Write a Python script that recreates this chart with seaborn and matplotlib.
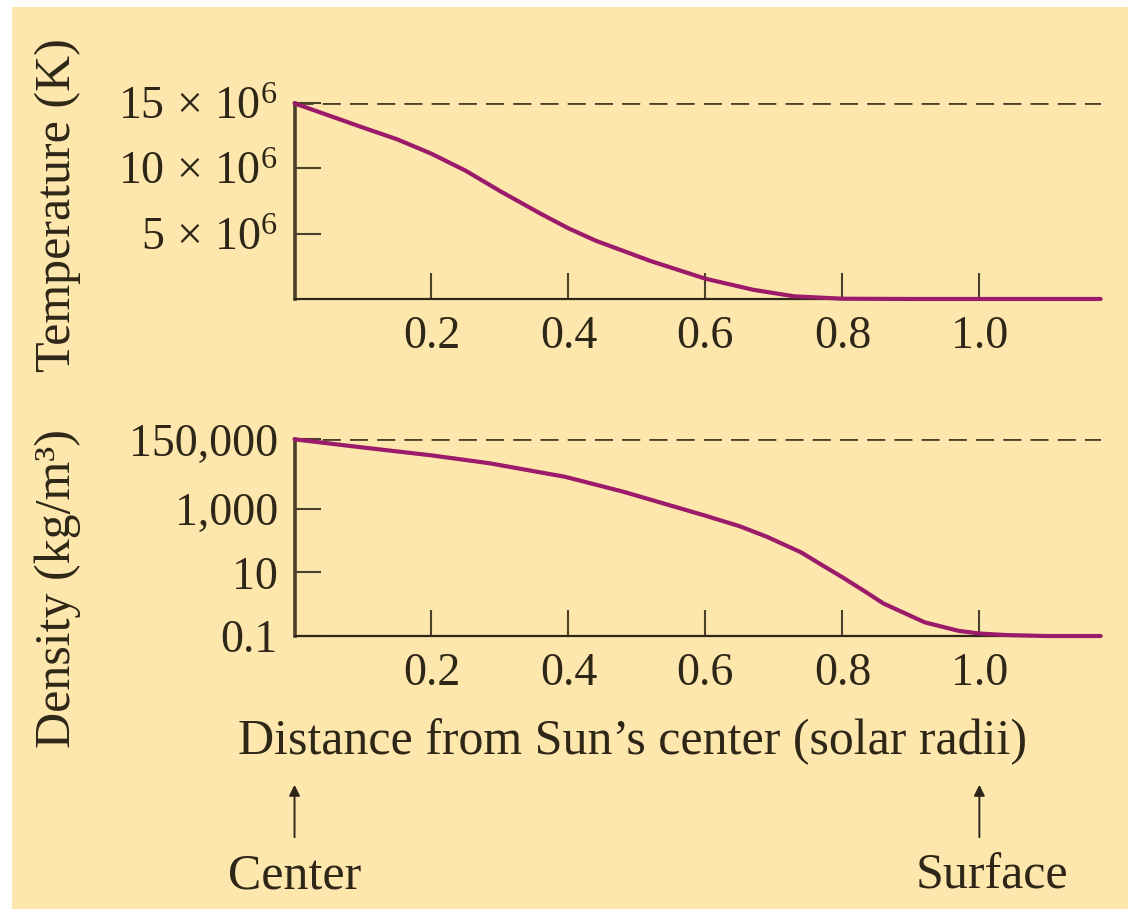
import numpy as np
import pandas as pd
import matplotlib
matplotlib.use("Agg")
import matplotlib.pyplot as plt
import matplotlib.transforms as mtransforms
from matplotlib.patches import Rectangle
import seaborn as sns

# Temperature profile
r_temp = [0.0, 0.1, 0.15, 0.2, 0.25, 0.3, 0.36, 0.4, 0.44, 0.52, 0.6, 0.67, 0.73, 0.8, 0.9,
          1.0, 1.177]
temp_k = [14.95e6, 13.1e6, 12.2e6, 11.1e6, 9.8e6, 8.25e6, 6.5e6, 5.4e6, 4.45e6, 2.9e6, 1.55e6,
          0.7e6, 0.2e6, 0.02e6, 0.0, 0.0, 0.0]

# Density profile (kg/m^3)
r_dens = [0.0, 0.09, 0.2, 0.285, 0.395, 0.48, 0.6, 0.65, 0.69, 0.74, 0.77, 0.8, 0.83, 0.86,
          0.92, 0.97, 1.0, 1.04, 1.1, 1.177]
dens = [150000, 88000, 47000, 26500, 10000, 3400, 600, 280, 130, 42, 17, 7.0, 2.75, 1.05,
        0.27, 0.145, 0.12, 0.107, 0.1, 0.1]

x_ticks = [0.2, 0.4, 0.6, 0.8, 1.0]
x_tick_labels = ["0.2", "0.4", "0.6", "0.8", "1.0"]
temp_ticks = [5e6, 10e6, 15e6]
temp_tick_labels = [r"$5\,\times\,10^6$", r"$10\,\times\,10^6$", r"$15\,\times\,10^6$"]
dens_ticks = [0.1, 10, 1000, 150000]
dens_tick_labels = ["0.1", "10", "1,000", "150,000"]

BG = "#fde7ad"
INK = "#2e2718"
AXIS = "#4a412c"
CURVE = "#9c1a6a"

sns.set_style("ticks")
plt.rcParams["font.family"] = ["Liberation Serif", "DejaVu Serif"]
plt.rcParams["mathtext.fontset"] = "custom"
plt.rcParams["mathtext.rm"] = "Liberation Serif"
plt.rcParams["mathtext.it"] = "Liberation Serif:italic"

fig = plt.figure(figsize=(11.28, 9.09), dpi=100, facecolor="white")
fig.patches.append(Rectangle((12 / 1128, 0), 1, 1 - 7 / 909, transform=fig.transFigure,
                             facecolor=BG, edgecolor="none", zorder=-10))

ax1 = fig.add_axes([0.2611, 0.6711, 0.7146, 0.2159])
ax2 = fig.add_axes([0.2611, 0.3003, 0.7146, 0.2164])

temp_df = pd.DataFrame({"r": r_temp, "T": temp_k})
dens_df = pd.DataFrame({"r": r_dens, "rho": dens})

sns.lineplot(data=temp_df, x="r", y="T", ax=ax1, color=CURVE, lw=3, clip_on=False, zorder=5)
sns.lineplot(data=dens_df, x="r", y="rho", ax=ax2, color=CURVE, lw=3, clip_on=False, zorder=5)
ax2.set_yscale("log")

ax1.set_ylim(0, 15e6)
ax2.set_ylim(0.1, 150000)
ax1.axhline(15e6, color=AXIS, lw=2, ls=(0, (6.5, 3.3)), zorder=2)
ax2.axhline(150000, color=AXIS, lw=2, ls=(0, (6.5, 3.3)), zorder=2)

for ax in (ax1, ax2):
    ax.set_facecolor("none")
    ax.set_xlim(0, 1.177)
    ax.set_xticks(x_ticks, labels=x_tick_labels)
    ax.minorticks_off()
    ax.set_xlabel("")
    ax.set_ylabel("")
    for s in ("top", "right"):
        ax.spines[s].set_visible(False)
    ax.spines["left"].set_linewidth(2.6)
    ax.spines["bottom"].set_linewidth(1.6)
    ax.spines["left"].set_color(AXIS)
    ax.spines["bottom"].set_color(INK)
    ax.tick_params(axis="both", direction="in", length=19, width=1.5, color=AXIS,
                   labelsize=33, labelcolor=INK)
    ax.tick_params(axis="x", pad=12)
    ax.tick_params(axis="y", pad=12)

ax1.set_yticks(temp_ticks, labels=temp_tick_labels)
ax2.set_yticks(dens_ticks, labels=dens_tick_labels)
ax2.minorticks_off()

# axis titles
fig.text(58 / 1128, 1 - 205 / 909, "Temperature (K)", rotation=90, ha="center", va="center",
         fontsize=36, color=INK)
fig.text(58 / 1128, 1 - 588 / 909, "Density (kg/m³)", rotation=90, ha="center", va="center",
         fontsize=36, color=INK)
fig.text(633 / 1128, 1 - 742 / 909, "Distance from Sun\u2019s center (solar radii)",
         ha="center", va="center", fontsize=36, color=INK)

# Center / Surface markers
trans = mtransforms.blended_transform_factory(ax2.transData, fig.transFigure)
for xpos, name, shift in [(0.0, "Center", 0.0), (1.0, "Surface", 0.018)]:
    ax2.annotate("", xy=(xpos, 1 - 782 / 909), xytext=(xpos, 1 - 840 / 909),
                 xycoords=trans, textcoords=trans,
                 arrowprops=dict(arrowstyle="-|>", color=INK, lw=1.4, mutation_scale=16))
    ax2.text(xpos + shift, 1 - 876 / 909, name, transform=trans, ha="center", va="center",
             fontsize=36, color=INK, clip_on=False)

fig.savefig("out.png", dpi=100, facecolor=fig.get_facecolor())
